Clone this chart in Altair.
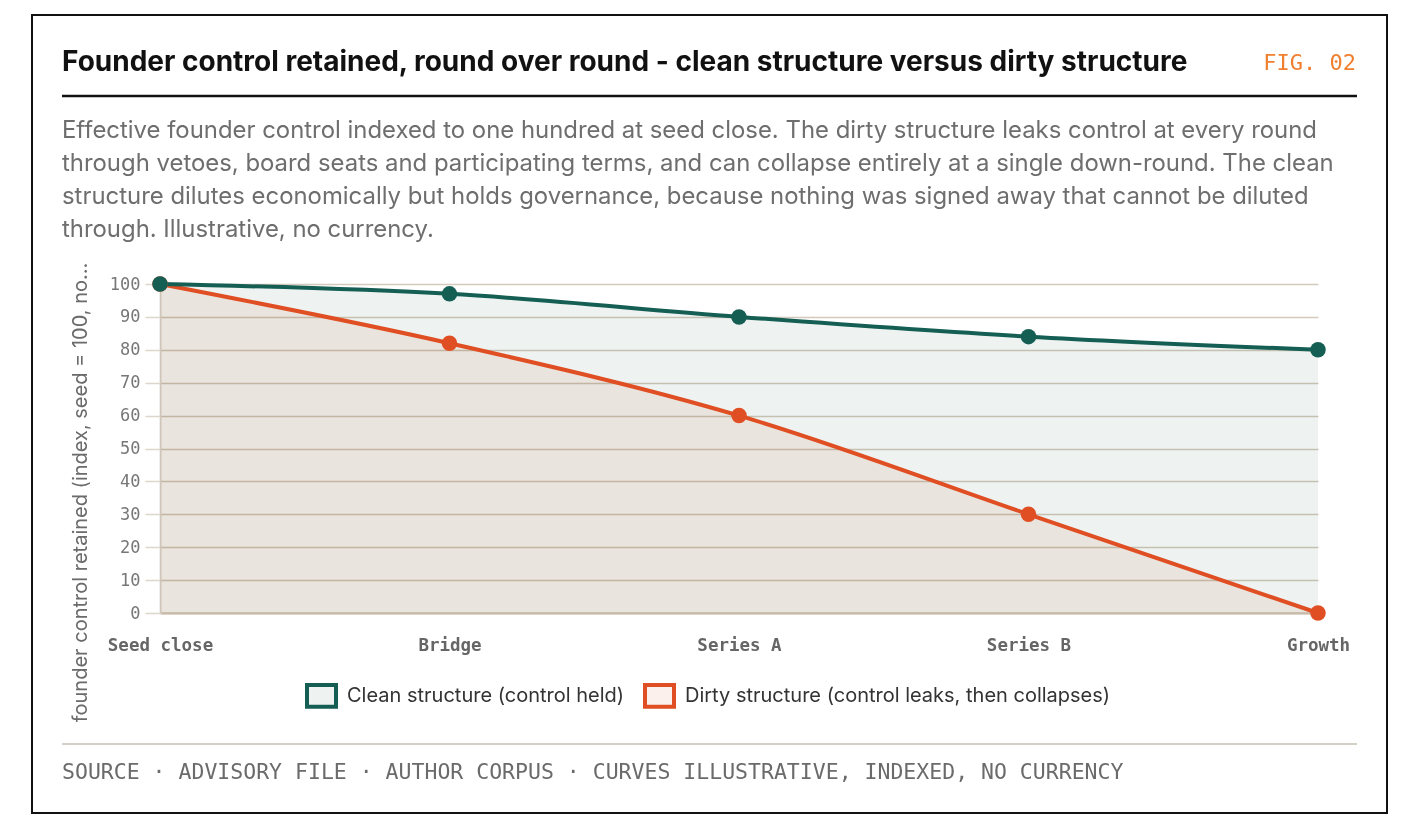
import altair as alt
import pandas as pd

# ---- data ----
rounds = ["Seed close", "Bridge", "Series A", "Series B", "Growth"]
clean_vals = [100, 97, 90, 84, 80]
dirty_vals = [100, 82, 60, 30, 0]
CLEAN = "Clean structure (control held)"
DIRTY = "Dirty structure (control leaks, then collapses)"
series = [CLEAN, DIRTY]
dark = ["#145e54", "#e04f23"]
light = ["#eef3f1", "#fbf0eb"]
y_ticks = [0, 10, 20, 30, 40, 50, 60, 70, 80, 90, 100]

title_text = "Founder control retained, round over round - clean structure versus dirty structure"
fig_text = "FIG. 02"
subtitle_lines = [
    "Effective founder control indexed to one hundred at seed close. The dirty structure leaks control at every round",
    "through vetoes, board seats and participating terms, and can collapse entirely at a single down-round. The clean",
    "structure dilutes economically but holds governance, because nothing was signed away that cannot be diluted",
    "through. Illustrative, no currency.",
]
y_title = "founder control retained (index, seed = 100, no currency)"
footer_text = "SOURCE · ADVISORY FILE · AUTHOR CORPUS · CURVES ILLUSTRATIVE, INDEXED, NO CURRENCY"

rows = []
for s, vals in [(DIRTY, dirty_vals), (CLEAN, clean_vals)]:
    for r, v in zip(rounds, vals):
        rows.append({"round": r, "value": v, "series": s})
df = pd.DataFrame(rows)

MONO = "DejaVu Sans Mono"
SANS = "Inter"

x_enc = alt.X(
    "round:N",
    sort=rounds,
    scale=alt.Scale(type="point", padding=0),
    title=None,
    axis=alt.Axis(
        labelAngle=0, ticks=False, grid=False,
        domain=True, domainColor="#c7baa7", domainWidth=2,
        labelFont=MONO, labelFontSize=17.5, labelFontWeight="bold",
        labelColor="#666666", labelPadding=23,
    ),
)
y_enc = alt.Y(
    "value:Q",
    stack=None,
    scale=alt.Scale(domain=[0, 100], nice=False),
    axis=alt.Axis(
        values=y_ticks, title=y_title, titleLimit=462,
        titleFont=SANS, titleFontSize=20, titleFontWeight="normal",
        titleColor="#6b6b6b", titleAngle=-90, titleX=-80, titleY=208,
        titleAlign="center", titleBaseline="middle",
        labelFont=MONO, labelFontSize=17, labelColor="#777777", labelPadding=5,
        ticks=True, tickSize=15, tickColor="#ddd6ca", tickWidth=1.5,
        grid=True, gridColor="#d4cabb", gridWidth=1.5,
        domain=True, domainColor="#e2ddd5", domainWidth=2,
    ),
)

leg = alt.Legend(
    title=None, orient="none", legendX=145, legendY=395, direction="horizontal",
    symbolType="M-1,-0.75H1V0.75H-1Z", symbolSize=841, symbolStrokeWidth=4,
    labelFont=SANS, labelFontSize=20, labelColor="#333333", labelOffset=9,
    columnPadding=12, labelLimit=700,
)

base = alt.Chart(df)

area = base.mark_area(interpolate="monotone", blend="multiply").encode(
    x=x_enc, y=y_enc,
    fill=alt.Fill("series:N", scale=alt.Scale(domain=series, range=light), legend=leg),
)
line = base.mark_line(interpolate="monotone", strokeWidth=4).encode(
    x=x_enc, y=y_enc,
    stroke=alt.Stroke("series:N", scale=alt.Scale(domain=series, range=dark), legend=leg),
)
points = base.mark_circle(size=240, opacity=1).encode(
    x=x_enc, y=y_enc,
    color=alt.Color("series:N", scale=alt.Scale(domain=series, range=dark), legend=None),
)


def one():
    return alt.Chart(alt.Data(values=[{"k": 1}]))


frame = one().mark_rect(fill="transparent", stroke="#111111", strokeWidth=2).encode(
    x=alt.value(-128), x2=alt.value(1227), y=alt.value(-269), y2=alt.value(529)
)
title_mark = one().mark_text(
    font=SANS, fontSize=28, fontWeight="bold", color="#111111", align="left", baseline="alphabetic"
).encode(x=alt.value(-98), y=alt.value(-213), text=alt.value(title_text))
fig_mark = one().mark_text(
    font=MONO, fontSize=22, color="#f07f2f", align="right", baseline="alphabetic"
).encode(x=alt.value(1196), y=alt.value(-214), text=alt.value(fig_text))
top_rule = one().mark_rule(color="#111111", strokeWidth=2.5).encode(
    x=alt.value(-98), x2=alt.value(1197), y=alt.value(-188)
)
sub_mark = one().mark_text(
    font=SANS, fontSize=23.9, color="#6e6e6e", align="left", baseline="alphabetic", lineHeight=33
).encode(x=alt.value(-98), y=alt.value(-146), text=alt.value(subtitle_lines))
bottom_rule = one().mark_rule(color="#d6d1c6", strokeWidth=2).encode(
    x=alt.value(-98), x2=alt.value(1197), y=alt.value(460)
)
footer_mark = one().mark_text(
    font=MONO, fontSize=21.5, color="#6b6b6b", align="left", baseline="alphabetic"
).encode(x=alt.value(-98), y=alt.value(495), text=alt.value(footer_text))

chart = alt.layer(
    area, line, points,
    frame, title_mark, fig_mark, top_rule, sub_mark, bottom_rule, footer_mark,
).properties(
    width=1158, height=329,
    padding={"left": 152, "top": 276, "right": 70, "bottom": 201},
    autosize=alt.AutoSizeParams(type="none"),
    background="white",
).configure_view(strokeWidth=0)

chart.save("out.html", embed_options={"renderer": "svg", "actions": False})
